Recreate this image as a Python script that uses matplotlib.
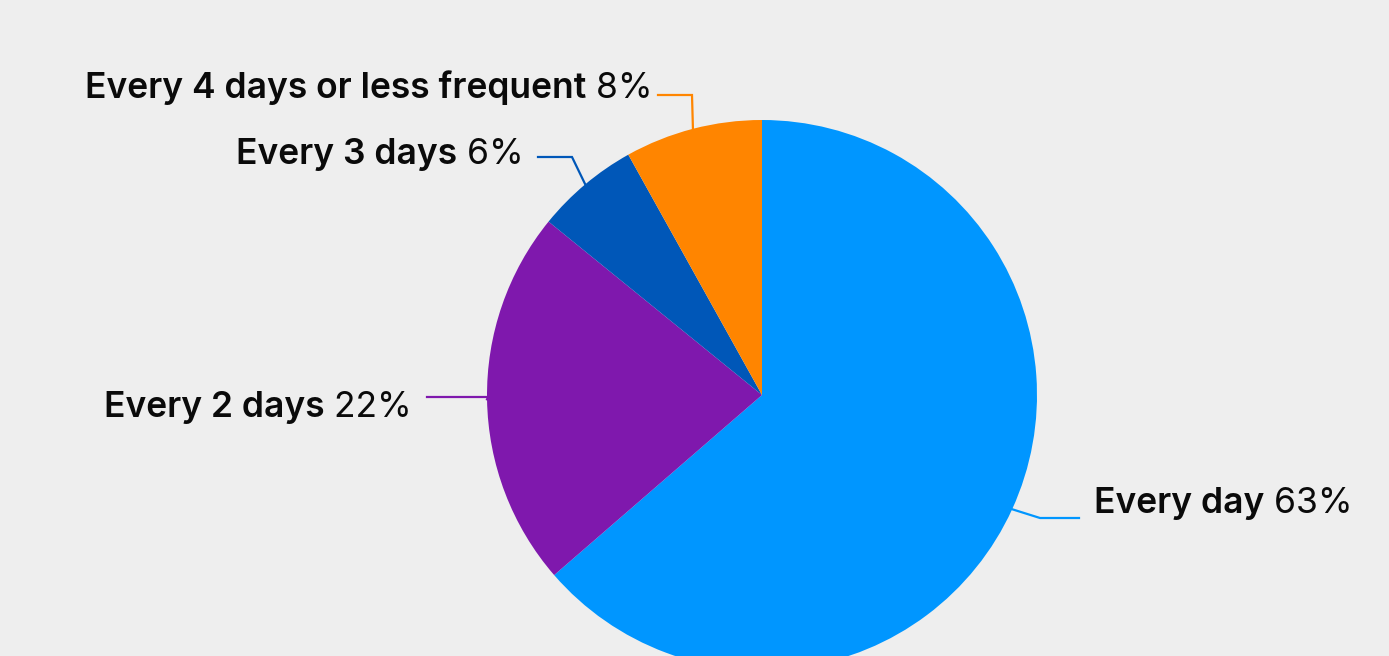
import matplotlib.pyplot as plt
import numpy as np

# data
labels = ['Every day', 'Every 2 days', 'Every 3 days', 'Every 4 days or less frequent']
shares = [63, 22, 6, 8]
colors = ['#0096FF', '#7F18AD', '#0057B8', '#FF8500']

W, H = 1389, 656
bg = '#EEEEEE'

# layout in pixel coords (image origin at top)
center = (762, 395)
radius = 275
# elbow point of leader, end of leader next to the text
elbows = [(1040, 518), (488, 397), (572, 157), (692, 95)]
line_ends = [1079, 427, 538, 658]
text_baselines = [513, 417, 164, 98]
gaps = [15, 15, 14, 5]

fy = lambda y: H - y

fig = plt.figure(figsize=(W / 100, H / 100), dpi=100, facecolor=bg)
ax = fig.add_axes([0, 0, 1, 1])
ax.set_facecolor(bg)

wedges, _ = ax.pie(shares, colors=colors, startangle=90, counterclock=False,
                   center=(center[0], fy(center[1])), radius=radius,
                   wedgeprops=dict(linewidth=0))
ax.set_xlim(0, W)
ax.set_ylim(0, H)
ax.set_aspect('equal')
ax.axis('off')

name_font = dict(family='Inter', weight='semibold', size=25.5, color='#0a0a0a')
pct_font = dict(family='Inter', weight='normal', size=25.5, color='#0a0a0a')

fig.canvas.draw()
renderer = fig.canvas.get_renderer()

for i, w in enumerate(wedges):
    mid = np.deg2rad((w.theta1 + w.theta2) / 2)
    sx = center[0] + radius * np.cos(mid)
    sy = fy(center[1]) + radius * np.sin(mid)
    ex, ey = elbows[i]
    ax.plot([sx, ex, line_ends[i]], [sy, fy(ey), fy(ey)], color=colors[i], lw=1.6,
            solid_joinstyle='miter')
    pct = f' {shares[i]}%'
    if line_ends[i] > ex:
        # label on the right
        x0 = line_ends[i] + gaps[i]
        t = ax.text(x0, fy(text_baselines[i]), labels[i], ha='left', va='baseline', **name_font)
        wd = t.get_window_extent(renderer).width
        ax.text(x0 + wd, fy(text_baselines[i]), pct, ha='left', va='baseline', **pct_font)
    else:
        x1 = line_ends[i] - gaps[i]
        t = ax.text(x1, fy(text_baselines[i]), pct, ha='right', va='baseline', **pct_font)
        wd = t.get_window_extent(renderer).width
        ax.text(x1 - wd, fy(text_baselines[i]), labels[i], ha='right', va='baseline', **name_font)

fig.savefig('out.png', dpi=100, facecolor=bg)
